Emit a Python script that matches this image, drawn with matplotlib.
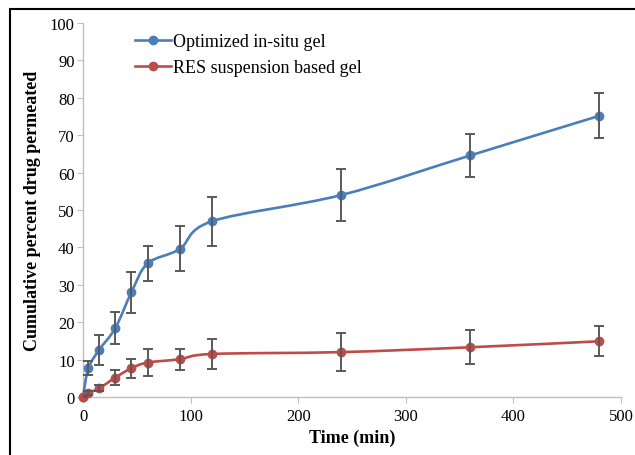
import matplotlib
matplotlib.use("Agg")
import matplotlib.pyplot as plt
from matplotlib.path import Path
from matplotlib.patches import PathPatch, Rectangle
from matplotlib.lines import Line2D
import numpy as np

# data
time_min = [0, 5, 15, 30, 45, 60, 90, 120, 240, 360, 480]
insitu_gel = [0, 7.7, 12.6, 18.4, 28.0, 35.7, 39.6, 47.0, 54.0, 64.6, 75.2]
insitu_err = [0, 1.8, 4.0, 4.2, 5.5, 4.8, 6.0, 6.6, 7.0, 5.7, 6.0]
res_gel = [0, 1.1, 2.3, 5.2, 7.7, 9.2, 10.1, 11.5, 12.0, 13.3, 14.9]
res_err = [0, 0.6, 0.8, 2.0, 2.5, 3.7, 2.8, 4.1, 5.0, 4.5, 4.0]

BLUE = "#4A7EBB"
RED = "#BE4B48"
SERIF = ["Liberation Serif", "DejaVu Serif"]


def smooth_path(x, y):
    """Excel-like smoothed line: cubic Bezier segments through the points."""
    pts = np.column_stack([x, y]).astype(float)
    n = len(pts)
    verts = [pts[0]]
    codes = [Path.MOVETO]
    for i in range(n - 1):
        p0 = pts[i - 1] if i > 0 else pts[i]
        p1 = pts[i]
        p2 = pts[i + 1]
        p3 = pts[i + 2] if i + 2 < n else pts[i + 1]
        c1 = p1 + (p2 - p0) / 6.0
        c2 = p2 - (p3 - p1) / 6.0
        verts += [c1, c2, p2]
        codes += [Path.CURVE4] * 3
    return Path(verts, codes)


fig = plt.figure(figsize=(6.35, 4.56), dpi=100)
ax = fig.add_axes([83 / 635, 1 - 398 / 456, 538 / 635, 374 / 456])

for x, y, err, col in [(time_min, insitu_gel, insitu_err, BLUE),
                       (time_min, res_gel, res_err, RED)]:
    ax.add_patch(PathPatch(smooth_path(x, y), facecolor="none",
                           edgecolor=col, lw=1.9, zorder=2, clip_on=False))
    ax.plot(x, y, "o", color=col, ms=6, zorder=3, clip_on=False)
    ax.errorbar(x, y, yerr=err, fmt="none", ecolor="#595959",
                elinewidth=1.4, capsize=3.5, capthick=1.4, zorder=4)

ax.set_xlim(0, 500)
ax.set_ylim(0, 100)
ax.set_xticks(range(0, 501, 100))
ax.set_yticks(range(0, 101, 10))
for s in ["top", "right"]:
    ax.spines[s].set_visible(False)
for s in ["left", "bottom"]:
    ax.spines[s].set_color("#BFBFBF")
    ax.spines[s].set_linewidth(1.0)
    ax.spines[s].set_zorder(1)
ax.tick_params(axis="both", direction="out", length=4, color="#BFBFBF",
               labelsize=12)
ax.tick_params(axis="y", pad=2)
ax.tick_params(axis="x", pad=4)
for lab in ax.get_xticklabels() + ax.get_yticklabels():
    lab.set_fontfamily(SERIF)

ax.set_xlabel("Time (min)", fontsize=13, fontweight="bold",
              fontfamily=SERIF, labelpad=3)
ax.set_ylabel("Cumulative percent drug permeated", fontsize=13,
              fontweight="bold", fontfamily=SERIF, labelpad=6)

handles = [Line2D([], [], color=BLUE, lw=1.9, marker="o", ms=6),
           Line2D([], [], color=RED, lw=1.9, marker="o", ms=6)]
ax.legend(handles, ["Optimized in-situ gel", "RES suspension based gel"],
          loc="upper left", bbox_to_anchor=(0.066, 1.017), frameon=False,
          prop={"family": SERIF, "size": 13}, handlelength=2.0,
          handletextpad=0.1, labelspacing=0.5)

# outer chart frame
fig.patches.append(Rectangle((10 / 635, -0.05), 1.2, 1 - 10 / 456 + 0.05,
                             transform=fig.transFigure, fill=False,
                             edgecolor="black", lw=1.5, clip_on=False))

fig.savefig("out.png", dpi=100)
